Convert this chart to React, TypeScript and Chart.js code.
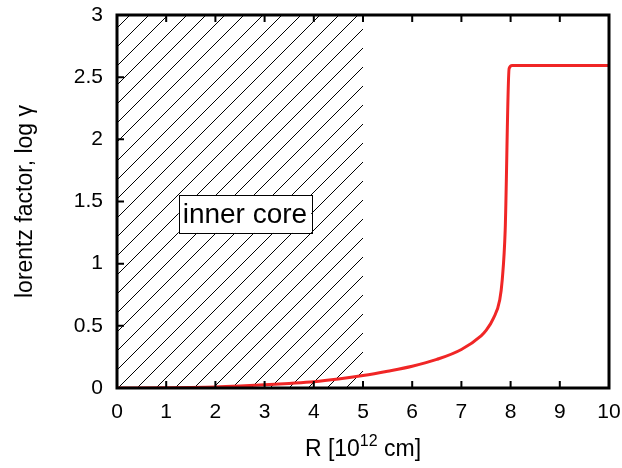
import React, { useEffect, useRef } from "react";
import { Chart, registerables } from "chart.js";

Chart.register(...registerables);

const R_VALUES = [0, 1, 1.5, 2, 2.5, 3, 3.5, 4, 4.5, 5, 5.5, 6, 6.5, 7, 7.4, 7.51, 7.65, 7.78, 7.83, 7.89, 7.97, 8.03, 10];
const LOG_GAMMA = [0, 0.002, 0.004, 0.008, 0.016, 0.026, 0.037, 0.05, 0.072, 0.1, 0.135, 0.175, 0.23, 0.31, 0.42, 0.467, 0.56, 0.71, 0.87, 1.27, 2.57, 2.594, 2.594];

const X_TICKS = [0, 1, 2, 3, 4, 5, 6, 7, 8, 9, 10];
const Y_TICKS = [0, 0.5, 1, 1.5, 2, 2.5, 3];

const CORE_RANGE = [0, 5];
const CORE_LABEL = "inner core";
const CORE_LABEL_POS = [2.6, 1.4];

const X_TITLE_MAIN = "R [10";
const X_TITLE_SUP = "12";
const X_TITLE_END = " cm]";

const FONT = "'Liberation Sans', Arial, Helvetica, sans-serif";

const framePlugin = {
  id: "framePlugin",
  beforeDatasetsDraw(chart: any) {
    const { ctx, chartArea } = chart;
    const xs = chart.scales.x;
    const x0 = xs.getPixelForValue(CORE_RANGE[0]);
    const x1 = xs.getPixelForValue(CORE_RANGE[1]);
    const yTop = chartArea.top;
    const yBot = chartArea.bottom;
    ctx.save();
    ctx.beginPath();
    ctx.rect(x0, yTop, x1 - x0, yBot - yTop);
    ctx.clip();
    ctx.strokeStyle = "#000";
    ctx.lineWidth = 1;
    const h = yBot - yTop;
    const step = 19;
    for (let s = x0 + 1 - Math.ceil(h / step) * step; s < x1; s += step) {
      ctx.beginPath();
      ctx.moveTo(s, yBot);
      ctx.lineTo(s + h, yBot - h);
      ctx.stroke();
    }
    ctx.restore();
  },
  afterDatasetsDraw(chart: any) {
    const { ctx, chartArea } = chart;
    const xs = chart.scales.x;
    const ys = chart.scales.y;
    // label box
    const cx = xs.getPixelForValue(CORE_LABEL_POS[0]);
    const cy = ys.getPixelForValue(CORE_LABEL_POS[1]);
    ctx.save();
    ctx.font = `28px ${FONT}`;
    const w = ctx.measureText(CORE_LABEL).width + 8;
    const hh = 38;
    ctx.fillStyle = "#fff";
    ctx.fillRect(cx - w / 2, cy - hh / 2, w, hh);
    ctx.strokeStyle = "#000";
    ctx.lineWidth = 1;
    ctx.strokeRect(Math.round(cx - w / 2) + 0.5, Math.round(cy - hh / 2) + 0.5, Math.round(w), hh);
    ctx.fillStyle = "#000";
    ctx.textAlign = "center";
    ctx.textBaseline = "middle";
    ctx.fillText(CORE_LABEL, cx, cy + 1);
    ctx.restore();

    // frame + inward ticks
    ctx.save();
    ctx.strokeStyle = "#000";
    ctx.lineWidth = 2;
    const tl = 7;
    ctx.beginPath();
    for (const v of X_TICKS) {
      const px = xs.getPixelForValue(v);
      ctx.moveTo(px, chartArea.bottom);
      ctx.lineTo(px, chartArea.bottom - tl);
      ctx.moveTo(px, chartArea.top);
      ctx.lineTo(px, chartArea.top + tl);
    }
    for (const v of Y_TICKS) {
      const py = ys.getPixelForValue(v);
      ctx.moveTo(chartArea.left, py);
      ctx.lineTo(chartArea.left + tl, py);
    }
    ctx.stroke();
    ctx.lineWidth = 3;
    ctx.strokeRect(chartArea.left, chartArea.top, chartArea.right - chartArea.left, chartArea.bottom - chartArea.top);
    ctx.restore();

    // x title with superscript
    ctx.save();
    ctx.fillStyle = "#000";
    ctx.textBaseline = "alphabetic";
    ctx.textAlign = "left";
    const mainFont = `23px ${FONT}`;
    const supFont = `16px ${FONT}`;
    ctx.font = mainFont;
    const w1 = ctx.measureText(X_TITLE_MAIN).width;
    const w3 = ctx.measureText(X_TITLE_END).width;
    ctx.font = supFont;
    const w2 = ctx.measureText(X_TITLE_SUP).width;
    const total = w1 + w2 + w3;
    const midX = (chartArea.left + chartArea.right) / 2;
    const baseY = chartArea.bottom + 68;
    let x = midX - total / 2;
    ctx.font = mainFont;
    ctx.fillText(X_TITLE_MAIN, x, baseY);
    x += w1;
    ctx.font = supFont;
    ctx.fillText(X_TITLE_SUP, x, baseY - 10);
    x += w2;
    ctx.font = mainFont;
    ctx.fillText(X_TITLE_END, x, baseY);
    ctx.restore();
  },
};

export default function App() {
  const ref = useRef<HTMLCanvasElement | null>(null);
  useEffect(() => {
    if (!ref.current) return;
    const data = R_VALUES.map((r, i) => ({ x: r, y: LOG_GAMMA[i] }));
    const chart = new Chart(ref.current, {
      type: "line",
      data: {
        datasets: [
          {
            data,
            borderColor: "rgb(240,38,38)",
            borderWidth: 3,
            pointRadius: 0,
            cubicInterpolationMode: "monotone",
            fill: false,
          },
        ],
      },
      options: {
        animation: false,
        responsive: false,
        devicePixelRatio: 1,
        layout: { padding: { left: 0, top: 15, right: 13, bottom: 0 } },
        plugins: { legend: { display: false }, tooltip: { enabled: false } },
        scales: {
          x: {
            type: "linear",
            min: 0,
            max: 10,
            afterBuildTicks: (s: any) => {
              s.ticks = X_TICKS.map((v) => ({ value: v }));
            },
            afterFit: (s: any) => {
              s.height = 80;
              s.paddingLeft = 0;
              s.paddingRight = 0;
            },
            grid: { display: false, drawTicks: false },
            border: { display: false },
            ticks: {
              color: "#000",
              font: { family: FONT, size: 21 },
              padding: 12,
              maxRotation: 0,
              callback: (v: any) => String(v),
            },
          },
          y: {
            type: "linear",
            min: 0,
            max: 3,
            afterBuildTicks: (s: any) => {
              s.ticks = Y_TICKS.map((v) => ({ value: v }));
            },
            afterFit: (s: any) => {
              s.width = 117;
              s.paddingTop = 0;
              s.paddingBottom = 0;
            },
            grid: { display: false, drawTicks: false },
            border: { display: false },
            ticks: {
              color: "#000",
              font: { family: FONT, size: 21 },
              padding: 14,
              callback: (v: any) => String(v),
            },
            title: {
              display: true,
              text: "lorentz factor, log γ",
              color: "#000",
              font: { family: FONT, size: 23 },
              padding: { top: 12, bottom: 0 },
            },
          },
        },
      },
      plugins: [framePlugin],
    });
    return () => chart.destroy();
  }, []);
  return (
    <div style={{ position: "fixed", left: 0, top: 0, width: 622, height: 468, background: "#fff" }}>
      <canvas ref={ref} width={622} height={468} style={{ display: "block" }} />
    </div>
  );
}
